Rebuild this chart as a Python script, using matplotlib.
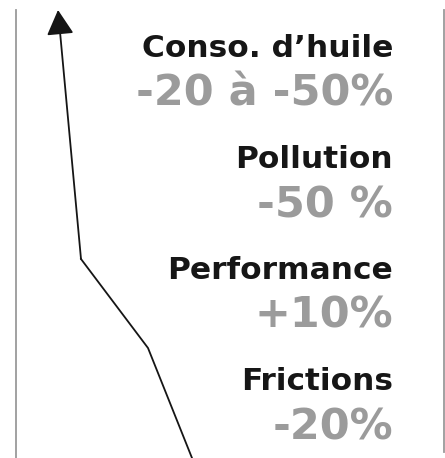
import numpy as np
import matplotlib
matplotlib.use('Agg')
from matplotlib import pyplot as plt

# benefits listed top to bottom
labels = ['Conso. d\u2019huile', 'Pollution', 'Performance', 'Frictions']
values = ['-20 \u00e0 -50%', '-50 %', '+10%', '-20%']

# broken trend line, bottom to top (picture units, y grows downward)
trend_x = [192, 148, 81, 58]
trend_y = [458, 348, 259, 10]

W, H = 445, 458
fig = plt.figure(figsize=(W / 100, H / 100), dpi=100)
ax = fig.add_axes([0, 0, 1, 1])
ax.set_xlim(0, W)
ax.set_ylim(H, 0)
ax.axis('off')

# frame lines left and right
ax.plot([16, 16], [10, H], color='#9a9a9a', lw=1.3)
ax.plot([444, 444], [10, 452], color='#9a9a9a', lw=1.3)

# trend line with arrow head
ax.plot(trend_x[:-1], trend_y[:-1], color='#151515', lw=1.3, solid_joinstyle='miter')
ax.annotate('', xy=(trend_x[-1], trend_y[-1]), xytext=(trend_x[-2], trend_y[-2]),
            arrowprops=dict(arrowstyle='-|>,head_length=0.55,head_width=0.3',
                            color='#151515', lw=1.3,
                            mutation_scale=28, shrinkA=0, shrinkB=0))

for i, (lab, val) in enumerate(zip(labels, values)):
    base = 57 + i * 111
    ax.text(393, base, lab, ha='right', va='baseline', fontsize=22.5,
            fontweight='heavy', color='#161616', family='DejaVu Sans')
    ax.text(393, base + 49, val, ha='right', va='baseline', fontsize=31,
            fontweight='bold', color='#9b9b9b', family='DejaVu Sans')

fig.savefig('out.png', dpi=100)
